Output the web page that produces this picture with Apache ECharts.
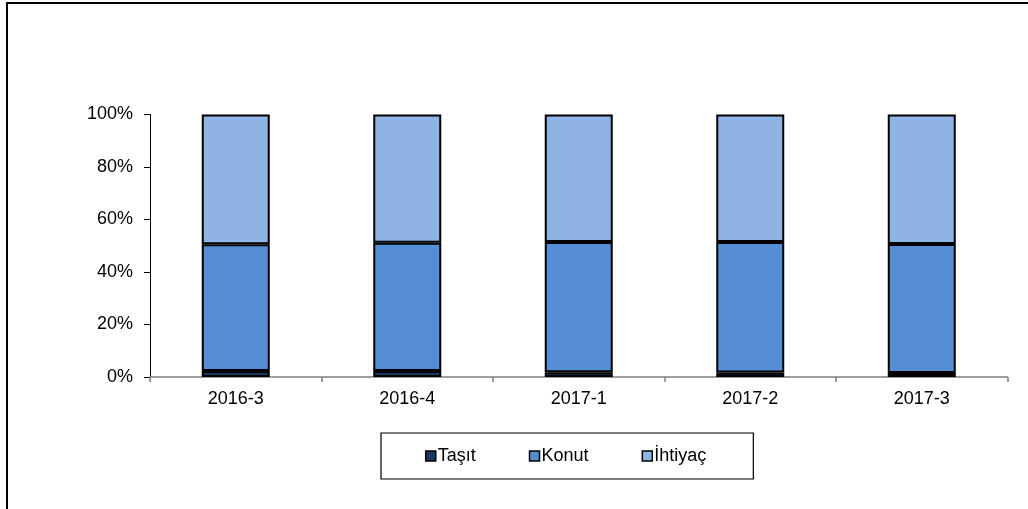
<!DOCTYPE html>
<html>
<head>
<meta charset="utf-8">
<script src="https://cdn.jsdelivr.net/npm/echarts@6/dist/echarts.min.js"></script>
<style>
  html, body { margin: 0; padding: 0; background: #fff; }
  #chart { width: 1028px; height: 509px; }
</style>
</head>
<body>
<div id="chart"></div>
<script>
// kategoriler ve seriler (yuzde paylar)
var donemler = ['2016-3', '2016-4', '2017-1', '2017-2', '2017-3'];
var tasit = [2.3, 2.3, 1.8, 1.7, 1.5];
var konut = [48.3, 48.8, 49.6, 49.7, 49.2];
var ihtiyac = [49.4, 48.9, 48.6, 48.6, 49.3];
var yTicks = [0, 20, 40, 60, 80, 100];

var renkler = ['#17375E', '#558ED5', '#8EB4E3'];
var yaziTipi = 'Liberation Sans, Arial, sans-serif';

function seri(ad, veri, renk) {
    return {
        name: ad,
        type: 'bar',
        stack: 'toplam',
        barWidth: 68,
        data: veri,
        itemStyle: { color: renk, borderColor: '#000', borderWidth: 2 }
    };
}

var myChart = echarts.init(document.getElementById('chart'));
var option = {
    backgroundColor: '#fff',
    animation: false,
    textStyle: { fontFamily: yaziTipi },
    graphic: [{
        type: 'polyline',
        shape: { points: [[7, 520], [7, 3], [1040, 3]] },
        style: { stroke: '#000', lineWidth: 2, fill: null }
    }],
    grid: { left: 150, right: 20.5, top: 114.5, bottom: 132 },
    legend: {
        data: ['Taşıt', 'Konut', 'İhtiyaç'],
        left: 381,
        top: 433,
        orient: 'horizontal',
        borderColor: '#000',
        borderWidth: 1.2,
        padding: [14, 47, 14, 44],
        itemWidth: 10,
        itemHeight: 10,
        itemGap: 53,
        icon: 'rect',
        itemStyle: { borderColor: '#000', borderWidth: 1.5 },
        textStyle: { fontSize: 18, color: '#000', fontFamily: yaziTipi, padding: [0, 0, 0, -3] }
    },
    xAxis: {
        type: 'category',
        data: donemler,
        axisLine: { lineStyle: { color: '#7f7f7f', width: 1.5 } },
        axisTick: { show: true, interval: 0, length: 5, lineStyle: { color: '#7f7f7f', width: 1.5 } },
        axisLabel: { fontSize: 18, color: '#000', margin: 13, fontFamily: yaziTipi }
    },
    yAxis: {
        type: 'value',
        min: yTicks[0],
        max: yTicks[yTicks.length - 1],
        interval: yTicks[1] - yTicks[0],
        splitLine: { show: false },
        axisLine: { show: true, lineStyle: { color: '#000', width: 1 } },
        axisTick: { show: true, length: 6, lineStyle: { color: '#000' } },
        axisLabel: { fontSize: 18, color: '#000', margin: 17, formatter: '{value}%', fontFamily: yaziTipi }
    },
    series: [
        seri('Taşıt', tasit, renkler[0]),
        seri('Konut', konut, renkler[1]),
        seri('İhtiyaç', ihtiyac, renkler[2])
    ]
};
myChart.setOption(option);
</script>
</body>
</html>
